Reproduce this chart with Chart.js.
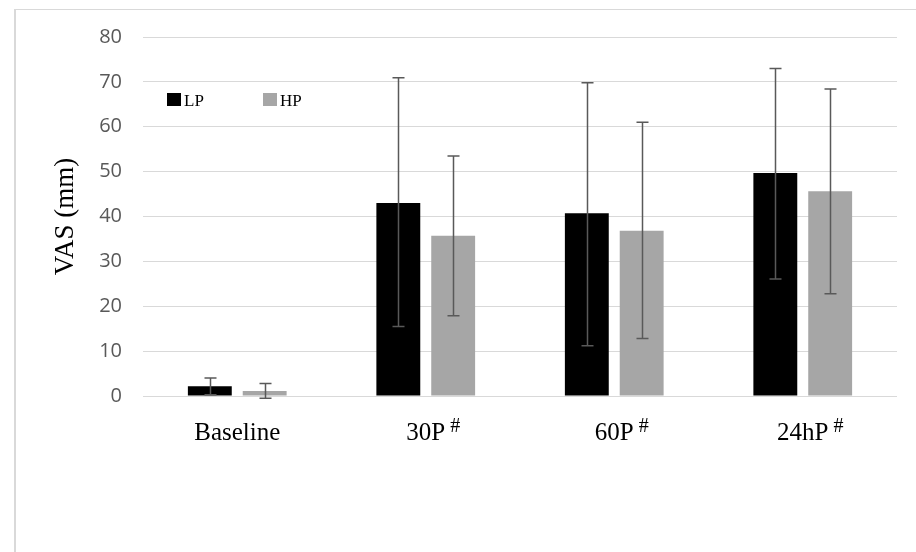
<!DOCTYPE html>
<html lang="en">
<head>
<meta charset="UTF-8">
<title>VAS (mm)</title>
<script src="https://cdn.jsdelivr.net/npm/chart.js@4/dist/chart.umd.min.js"></script>
<style>
  html, body { margin: 0; padding: 0; background: #fff; overflow: hidden; }
  #frame { position: absolute; left: 14px; top: 9px; width: 1000px; height: 700px;
           border: 1px solid #d9d9d9; border-width: 1px 0 0 2px; }
  #wrap { position: absolute; left: 0; top: 0; width: 916px; height: 552px; }
</style>
</head>
<body>
<div id="frame"></div>
<div id="wrap"><canvas id="chart" width="916" height="552"></canvas></div>
<script>
const categories = ['Baseline', '30P', '60P', '24hP'];
const marks      = ['', '#', '#', '#'];
const lpMean = [2.2, 43.0, 40.7, 49.7];
const lpLow  = [0.3, 15.5, 11.2, 26.1];
const lpHigh = [4.0, 70.9, 69.8, 73.0];
const hpMean = [1.1, 35.7, 36.8, 45.6];
const hpLow  = [-0.5, 17.9, 12.8, 22.8];
const hpHigh = [2.8, 53.5, 61.0, 68.4];
const yTicks = [0, 10, 20, 30, 40, 50, 60, 70, 80];

const errors = [[lpLow, lpHigh], [hpLow, hpHigh]];

const errorBars = {
  id: 'errorBars',
  afterDatasetsDraw(chart) {
    const ctx = chart.ctx, y = chart.scales.y;
    ctx.save();
    ctx.strokeStyle = '#595959';
    ctx.lineWidth = 1.5;
    chart.data.datasets.forEach((ds, di) => {
      chart.getDatasetMeta(di).data.forEach((bar, i) => {
        const x = Math.round(bar.x) + 0.5;
        const lo = y.getPixelForValue(errors[di][0][i]);
        const hi = y.getPixelForValue(errors[di][1][i]);
        ctx.beginPath();
        ctx.moveTo(x, lo); ctx.lineTo(x, hi);
        ctx.moveTo(x - 6, lo); ctx.lineTo(x + 6, lo);
        ctx.moveTo(x - 6, hi); ctx.lineTo(x + 6, hi);
        ctx.stroke();
      });
    });
    ctx.restore();
  }
};

const xLabels = {
  id: 'xLabels',
  afterDraw(chart) {
    const ctx = chart.ctx, x = chart.scales.x;
    ctx.save();
    ctx.fillStyle = '#000';
    ctx.textBaseline = 'alphabetic';
    categories.forEach((c, i) => {
      const cx = x.getPixelForValue(i);
      ctx.font = '25px "Liberation Serif", serif';
      ctx.textAlign = 'center';
      ctx.fillText(c, cx, 440);
      if (marks[i]) {
        const w = ctx.measureText(c).width;
        ctx.font = '20px "Liberation Serif", serif';
        ctx.textAlign = 'left';
        ctx.fillText(marks[i], cx + w / 2 + 5, 432);
      }
    });
    ctx.restore();
  }
};

const boxLegend = {
  id: 'boxLegend',
  afterDraw(chart) {
    const ctx = chart.ctx;
    const spots = [167, 263];
    ctx.save();
    ctx.font = '17px "Liberation Serif", serif';
    ctx.textBaseline = 'alphabetic';
    chart.data.datasets.forEach((ds, i) => {
      ctx.fillStyle = ds.backgroundColor;
      ctx.fillRect(spots[i], 93, 14, 13);
      ctx.fillStyle = '#000';
      ctx.fillText(ds.label, spots[i] + 17, 106);
    });
    ctx.restore();
  }
};

new Chart(document.getElementById('chart'), {
  type: 'bar',
  data: {
    labels: categories,
    datasets: [
      { label: 'LP', data: lpMean, backgroundColor: '#000000' },
      { label: 'HP', data: hpMean, backgroundColor: '#a6a6a6' },
    ],
  },
  options: {
    responsive: false,
    animation: false,
    devicePixelRatio: 1,
    layout: { padding: { left: 0, right: 19, top: 37, bottom: 0 } },
    datasets: { bar: { categoryPercentage: 0.582, barPercentage: 0.8 } },
    scales: {
      x: {
        grid: { display: false },
        border: { display: false },
        ticks: { display: false },
        afterFit(s) { s.height = 156; },
      },
      y: {
        min: 0, max: 80,
        afterBuildTicks(s) { s.ticks = yTicks.map(v => ({ value: v })); },
        grid: { color: '#d9d9d9', lineWidth: 1, drawTicks: false },
        border: { display: false },
        ticks: { color: '#595959', padding: 21, font: { family: '"Open Sans", sans-serif', size: 20 } },
        title: {
          display: true, text: 'VAS (mm)', color: '#000',
          font: { family: '"Liberation Serif", serif', size: 27 },
          padding: { top: 50, bottom: 0 },
        },
        afterFit(s) { s.width = 143; },
      },
    },
    plugins: { legend: { display: false }, tooltip: { enabled: false } },
  },
  plugins: [errorBars, xLabels, boxLegend],
});
</script>
</body>
</html>
